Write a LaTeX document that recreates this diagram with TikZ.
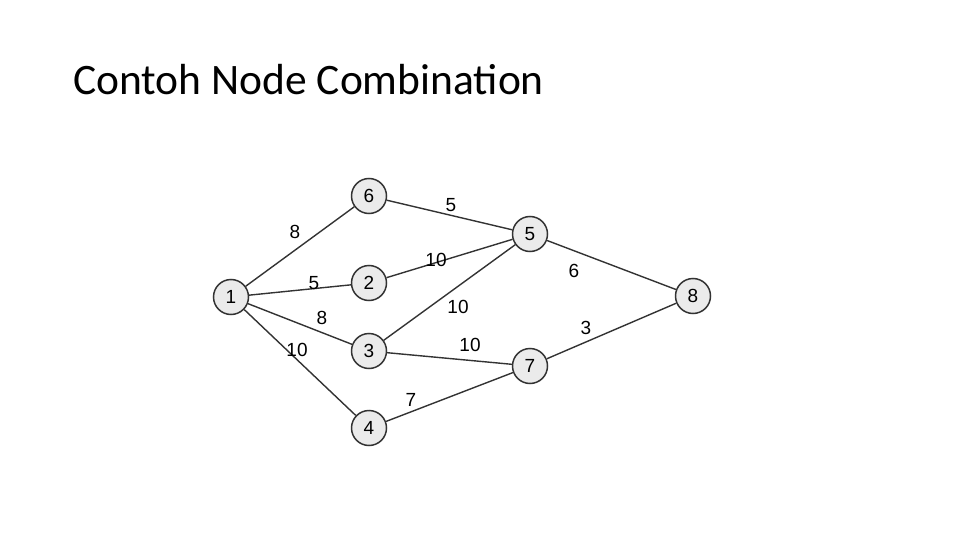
\documentclass[tikz,border=0pt]{standalone}
\usepackage{fontspec}
\setmainfont{Carlito}
\newfontfamily\labelfont{Liberation Sans}
\usetikzlibrary{positioning}

\begin{document}
\begin{tikzpicture}[x=1pt,y=-1pt,
  vtx/.style={circle, draw=black!80, fill=black!8, line width=1.5pt,
    minimum size=35pt, inner sep=0pt, font=\labelfont\fontsize{19}{19}\selectfont},
  link/.style={draw=black!80, line width=1.4pt},
  wt/.style={font=\labelfont\fontsize{19}{19}\selectfont, inner sep=0pt}]
  \useasboundingbox (0,0) rectangle (960,540);
  \node[anchor=base west, font=\fontsize{43.5}{43.5}\selectfont, inner sep=0pt] (title) at (73,95) {Contoh Node Combination};
  % nodes
  \node[vtx] at (231,297) (n1) {1};
  \node[vtx] at (369,196) (n6) {6};
  \node[vtx] at (369,283) (n2) {2};
  \node[vtx] at (369,351) (n3) {3};
  \node[vtx] at (369,428) (n4) {4};
  \node[vtx] at (530,234) (n5) {5};
  \node[vtx] at (530,366) (n7) {7};
  \node[vtx] at (693,296) (n8) {8};
  % edges
  \draw[link] (n1) -- (n6);
  \draw[link] (n1) -- (n2);
  \draw[link] (n1) -- (n3);
  \draw[link] (n1) -- (n4);
  \draw[link] (n6) -- (n5);
  \draw[link] (n2) -- (n5);
  \draw[link] (n3) -- (n5);
  \draw[link] (n3) -- (n7);
  \draw[link] (n4) -- (n7);
  \draw[link] (n5) -- (n8);
  \draw[link] (n7) -- (n8);
  % weights
  \node[wt] at (295,232) (w16) {8};
  \node[wt] at (314,283) (w12) {5};
  \node[wt] at (322,318) (w13) {8};
  \node[wt] at (297,350) (w14) {10};
  \node[wt] at (451,205) (w65) {5};
  \node[wt] at (436,260) (w25) {10};
  \node[wt] at (458,307) (w35) {10};
  \node[wt] at (470,345) (w37) {10};
  \node[wt] at (411,400) (w47) {7};
  \node[wt] at (574,271) (w58) {6};
  \node[wt] at (586,328) (w78) {3};
\end{tikzpicture}
\end{document}
